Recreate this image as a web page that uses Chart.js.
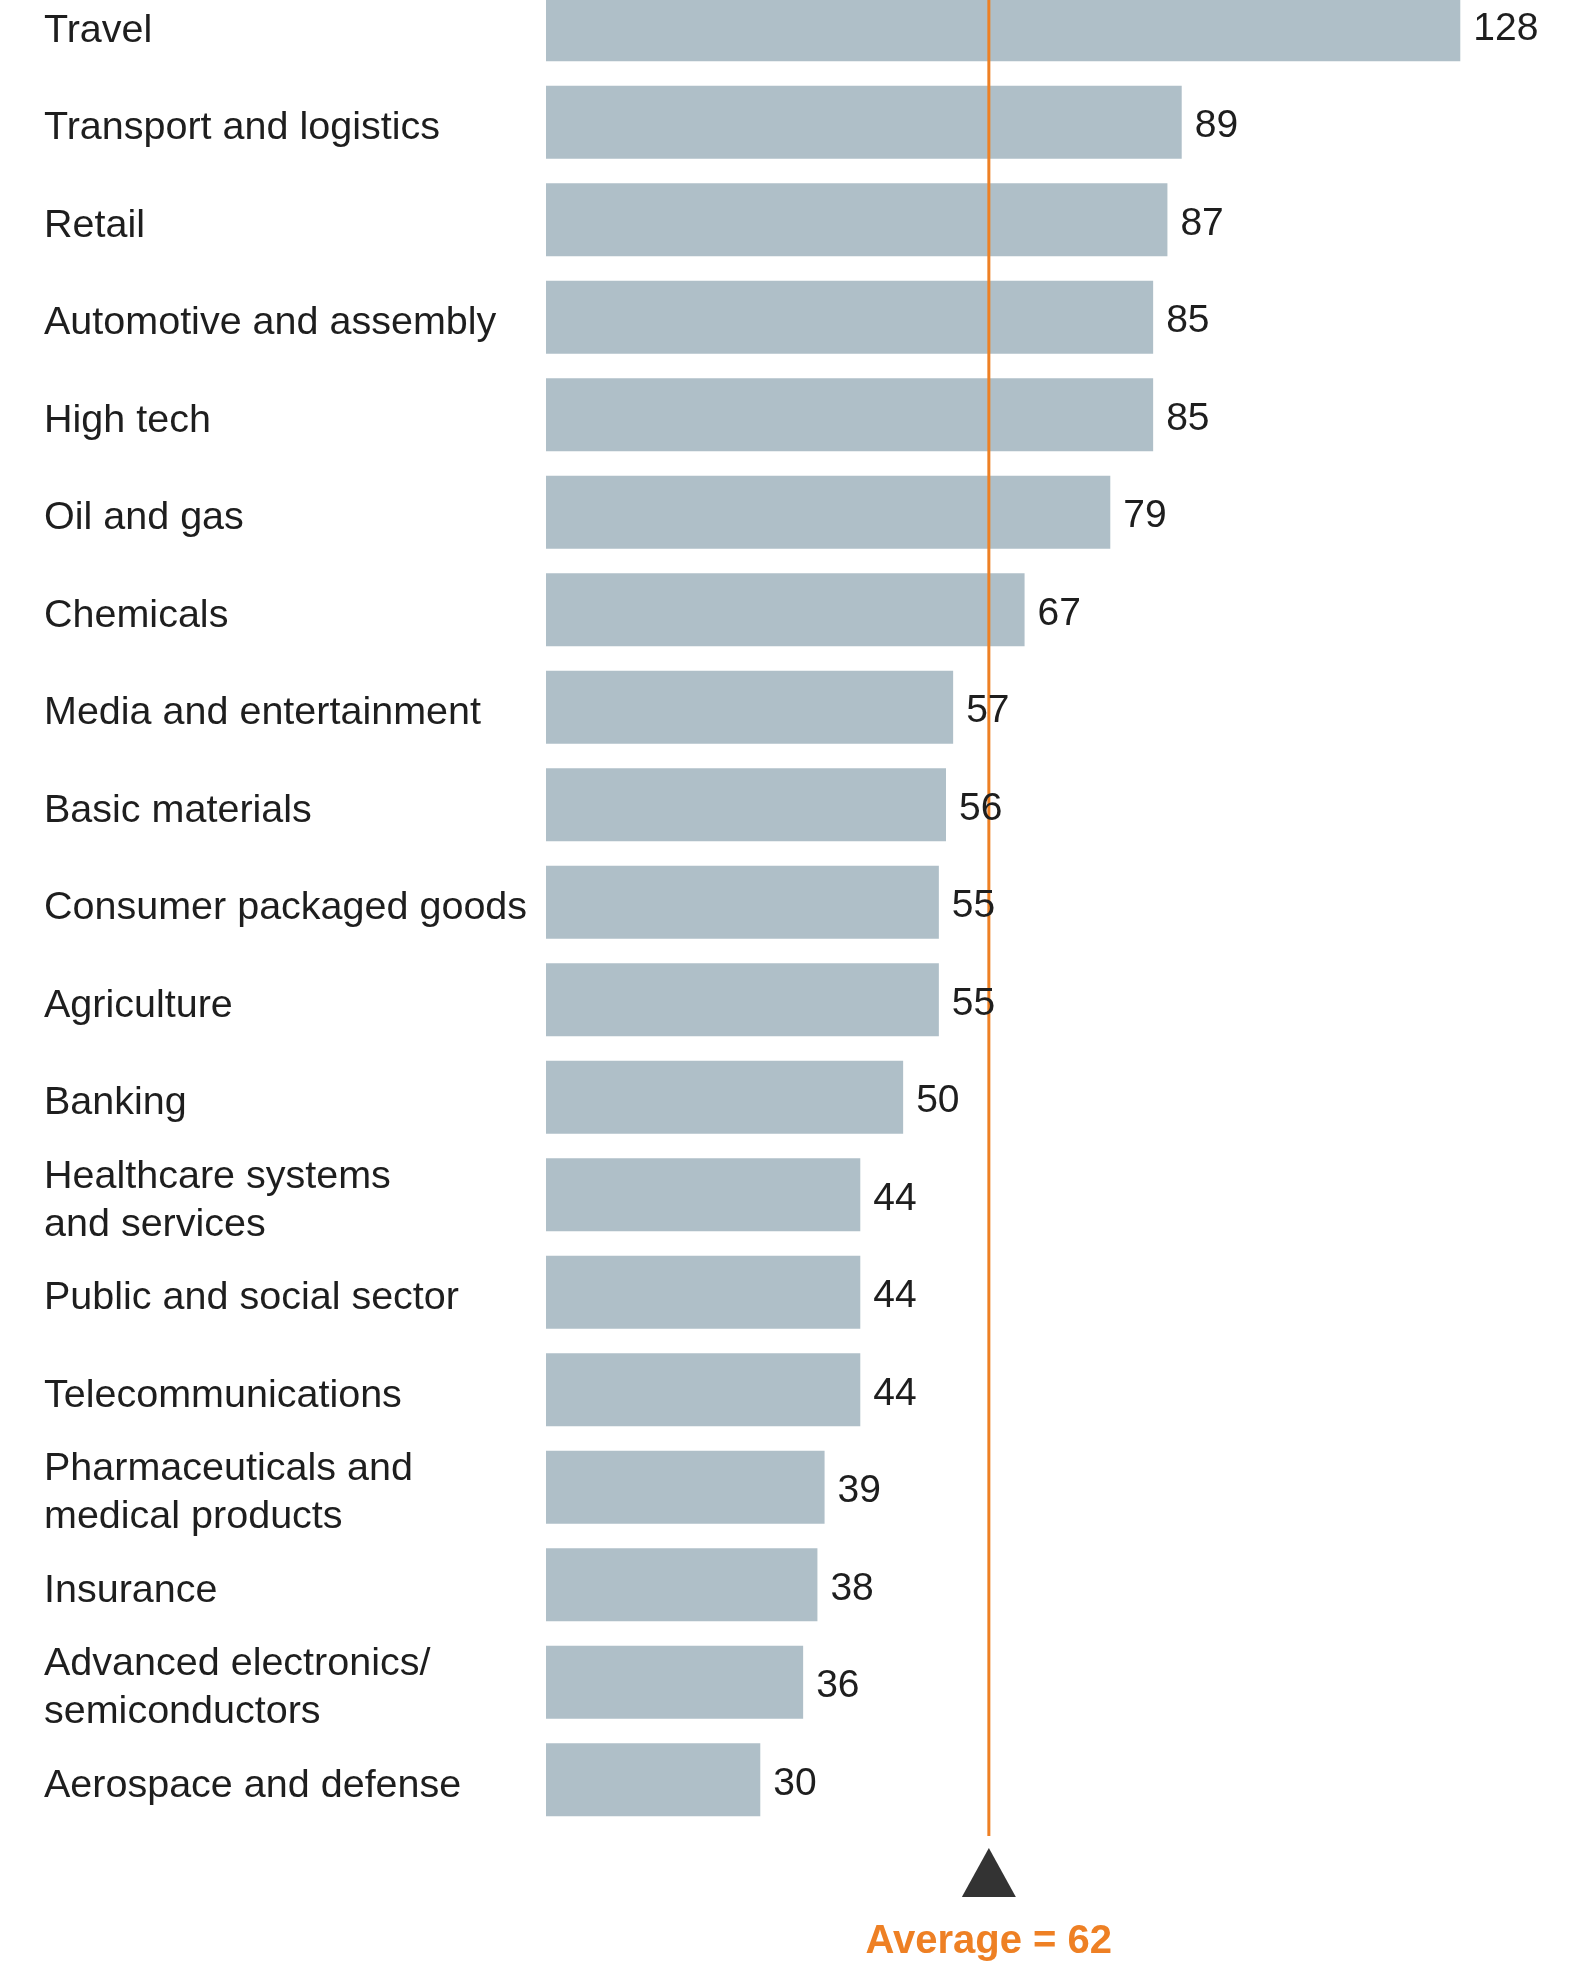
<!DOCTYPE html>
<html>
<head>
<meta charset="utf-8">
<script src="https://cdn.jsdelivr.net/npm/chart.js@4/dist/chart.umd.min.js"></script>
<style>
  html, body { margin: 0; padding: 0; background: #ffffff; overflow: hidden; }
  #wrap { position: absolute; left: 0; top: -54px; width: 1593px; height: 2020px; }
</style>
</head>
<body>
<div id="wrap"><canvas id="c" width="1593" height="2020"></canvas></div>
<script>
const categories = [
  "Travel",
  "Transport and logistics",
  "Retail",
  "Automotive and assembly",
  "High tech",
  "Oil and gas",
  "Chemicals",
  "Media and entertainment",
  "Basic materials",
  "Consumer packaged goods",
  "Agriculture",
  "Banking",
  ["Healthcare systems", "and services"],
  "Public and social sector",
  "Telecommunications",
  ["Pharmaceuticals and", "medical products"],
  "Insurance",
  ["Advanced electronics/", "semiconductors"],
  "Aerospace and defense"
];
const values = [128, 89, 87, 85, 85, 79, 67, 57, 56, 55, 55, 50, 44, 44, 44, 39, 38, 36, 30];
const average = 62;
const averageLabel = "Average = " + average;

const FONT = "'Liberation Sans', Arial, Helvetica, sans-serif";
const ORANGE = "#EE8024";
const BAR = "#AFBFC8";
const TEXT = "#1e1e1e";

const overlay = {
  id: 'overlay',
  afterDatasetsDraw(chart) {
    const ctx = chart.ctx;
    const xs = chart.scales.x;
    const ys = chart.scales.y;
    const area = chart.chartArea;
    const ax = xs.getPixelForValue(average);
    ctx.save();
    // average line
    ctx.strokeStyle = ORANGE;
    ctx.lineWidth = 3;
    ctx.beginPath();
    ctx.moveTo(ax, 0);
    ctx.lineTo(ax, area.bottom + 7.5);
    ctx.stroke();
    // triangle marker
    ctx.fillStyle = "#333333";
    ctx.beginPath();
    ctx.moveTo(ax, area.bottom + 19.5);
    ctx.lineTo(ax + 27, area.bottom + 68.5);
    ctx.lineTo(ax - 27, area.bottom + 68.5);
    ctx.closePath();
    ctx.fill();
    // average label
    ctx.fillStyle = ORANGE;
    ctx.font = "bold 40px " + FONT;
    ctx.textAlign = "center";
    ctx.textBaseline = "middle";
    ctx.fillText(averageLabel, ax, area.bottom + 113.5);
    // value labels
    ctx.fillStyle = TEXT;
    ctx.font = "39px " + FONT;
    ctx.textAlign = "left";
    const meta = chart.getDatasetMeta(0);
    meta.data.forEach((bar, i) => {
      ctx.fillText(String(values[i]), xs.getPixelForValue(values[i]) + 13, ys.getPixelForValue(i) + 4);
    });
    ctx.restore();
  }
};

new Chart(document.getElementById('c'), {
  type: 'bar',
  data: {
    labels: categories,
    datasets: [{
      data: values,
      backgroundColor: BAR,
      borderWidth: 0,
      barPercentage: 0.75,
      categoryPercentage: 1.0
    }]
  },
  options: {
    indexAxis: 'y',
    responsive: false,
    animation: false,
    devicePixelRatio: 1,
    layout: { padding: { left: 44, right: 47, top: 30, bottom: 137.5 } },
    plugins: { legend: { display: false }, tooltip: { enabled: false } },
    scales: {
      x: { display: false, min: 0, max: 140 },
      y: {
        grid: { display: false },
        border: { display: false },
        afterFit: (scale) => { scale.width = 502; },
        ticks: {
          crossAlign: 'far',
          labelOffset: 6,
          color: TEXT,
          font: { family: FONT, size: 39.5, lineHeight: 1.22 },
          autoSkip: false
        }
      }
    }
  },
  plugins: [overlay]
});
</script>
</body>
</html>
